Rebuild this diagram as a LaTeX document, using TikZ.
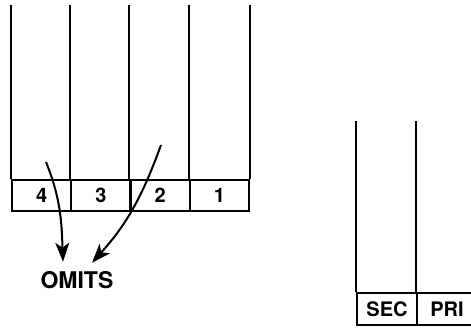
\documentclass[tikz,border=0pt]{standalone}
\usepackage{fontspec}
\setmainfont{TeX Gyre Heros}
\usetikzlibrary{arrows.meta}

\begin{document}
\begin{tikzpicture}[x=1pt, y=1pt,
    frame/.style={line width=2pt},
    cell/.style={draw, frame, minimum width=59.25pt, minimum height=31pt,
        inner sep=0pt, font=\fontsize{20}{24}\selectfont\bfseries},
    omitarrow/.style={line width=2pt, -{Stealth[length=19pt, width=14pt, inset=5pt]}}]
    \useasboundingbox (0,0) rectangle (471,327);
    \clip (0,0) rectangle (471,327);

    % Left frame: slots 4..1
    \foreach \n/\x in {4/41.6, 3/100.9, 2/160.1, 1/219.4}
        \node[cell] (c\n) at (\x,131.5) {\n};
    \foreach \n in {4,3,2,1}
        \draw[frame] (c\n.north west) -- ++(0,174);
    \draw[frame] (c1.north east) -- ++(0,174);

    % Right frame: secondary and primary
    \node[cell, minimum width=60pt, minimum height=32pt] (sec) at (387,18) {SEC};
    \node[cell, minimum width=60pt, minimum height=32pt] (pri) at (447,18) {PRI};
    \draw[frame] (sec.north west) -- ++(0,171);
    \draw[frame] (pri.north west) -- ++(0,171);

    % Omitted slots
    \node[anchor=base, inner sep=0pt, font=\fontsize{23}{26}\selectfont\bfseries] (omits) at (77,39) {OMITS};
    \coordinate (from4) at (46,165);
    \coordinate (from2) at (161,182);
    \draw[omitarrow] (from4) to[out=-68, in=92] ([xshift=-14pt, yshift=9pt]omits.north);
    \draw[omitarrow] (from2) to[out=-110, in=48] ([xshift=15pt, yshift=8pt]omits.north);
\end{tikzpicture}
\end{document}
